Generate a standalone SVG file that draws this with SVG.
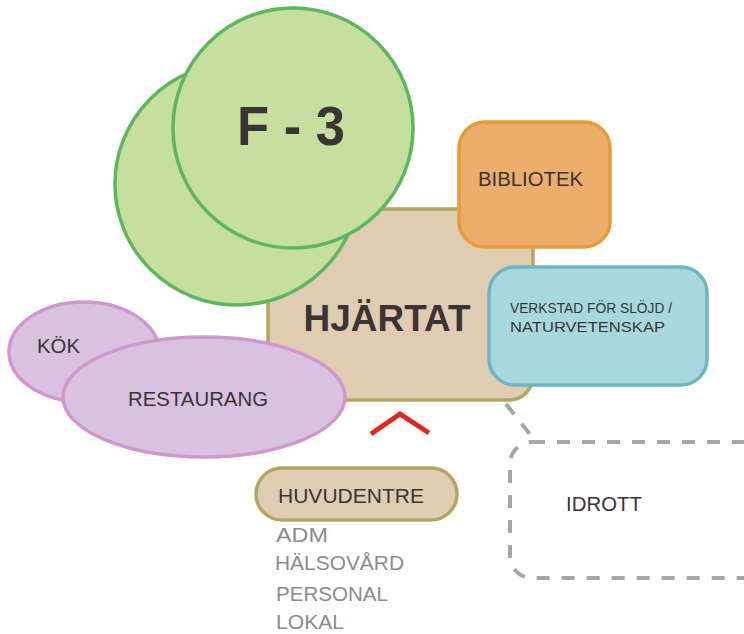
<svg xmlns="http://www.w3.org/2000/svg" width="744" height="634" viewBox="0 0 744 634">
<style>
text{font-family:"Liberation Sans",Arial,sans-serif;fill:#3a3434}
.tan{fill:#e0ccb0;stroke:#b3a662;stroke-width:3.5}
.green{fill:#c6df9f;stroke:#5cb85f;stroke-width:3.5}
.pink{fill:#d8c2e0;stroke:#cf97cd;stroke-width:3.5}
.lbl{font-size:20px}
.gray{font-size:20px;fill:#8c8c8c}
.dash{fill:none;stroke:#a6a6a6;stroke-width:4;stroke-dasharray:13 12}
</style>
<rect width="744" height="634" fill="#ffffff"/>
<g id="hjartat">
<rect class="tan" x="268" y="209" width="265" height="191" rx="24"/>
<text x="387" y="331" text-anchor="middle" font-size="36" font-weight="bold" textLength="167" lengthAdjust="spacingAndGlyphs">HJÄRTAT</text>
</g>
<g id="f3">
<ellipse class="green" cx="237" cy="184" rx="122" ry="121"/>
<circle class="green" cx="293" cy="128" r="120"/>
<text x="291" y="145" text-anchor="middle" font-size="55" font-weight="bold" textLength="108" lengthAdjust="spacingAndGlyphs">F - 3</text>
</g>
<g id="bibliotek">
<rect x="459" y="122" width="151" height="125" rx="26" fill="#edad6d" stroke="#e69b34" stroke-width="3.5"/>
<text class="lbl" x="478" y="186" textLength="105" lengthAdjust="spacingAndGlyphs">BIBLIOTEK</text>
</g>
<g id="verkstad">
<rect x="489" y="267" width="218" height="118" rx="26" fill="#a7d8dd" stroke="#6cb6c1" stroke-width="3.5"/>
<text x="510" y="313" font-size="15" textLength="162" lengthAdjust="spacingAndGlyphs">VERKSTAD FÖR SLÖJD /</text>
<text x="510" y="332" font-size="15" textLength="155" lengthAdjust="spacingAndGlyphs">NATURVETENSKAP</text>
</g>
<g id="kok">
<ellipse class="pink" cx="84" cy="352" rx="75" ry="50"/>
<text class="lbl" x="37" y="353" textLength="43" lengthAdjust="spacingAndGlyphs">KÖK</text>
</g>
<g id="restaurang">
<ellipse class="pink" cx="204" cy="397" rx="141" ry="60"/>
<text class="lbl" x="128" y="406" textLength="140" lengthAdjust="spacingAndGlyphs">RESTAURANG</text>
</g>
<g id="entrance-marker">
<polyline points="371,434 400,414 429,433" fill="none" stroke="#e1261c" stroke-width="5"/>
</g>
<g id="huvudentre">
<rect class="tan" x="256" y="468" width="201" height="52" rx="26"/>
<text class="lbl" x="278" y="503" textLength="146" lengthAdjust="spacingAndGlyphs">HUVUDENTRE</text>
<text class="gray" x="276" y="542" textLength="52" lengthAdjust="spacingAndGlyphs">ADM</text>
<text class="gray" x="275" y="570" textLength="129" lengthAdjust="spacingAndGlyphs">HÄLSOVÅRD</text>
<text class="gray" x="276" y="601" textLength="112" lengthAdjust="spacingAndGlyphs">PERSONAL</text>
<text class="gray" x="276" y="629" textLength="68" lengthAdjust="spacingAndGlyphs">LOKAL</text>
</g>
<g id="idrott">
<rect class="dash" x="510" y="442" width="260" height="136" rx="22"/>
<text class="lbl" x="566" y="511" textLength="76" lengthAdjust="spacingAndGlyphs">IDROTT</text>
</g>
<g id="connectors">
<line class="dash" x1="506" y1="404" x2="536" y2="442"/>
</g>
</svg>
